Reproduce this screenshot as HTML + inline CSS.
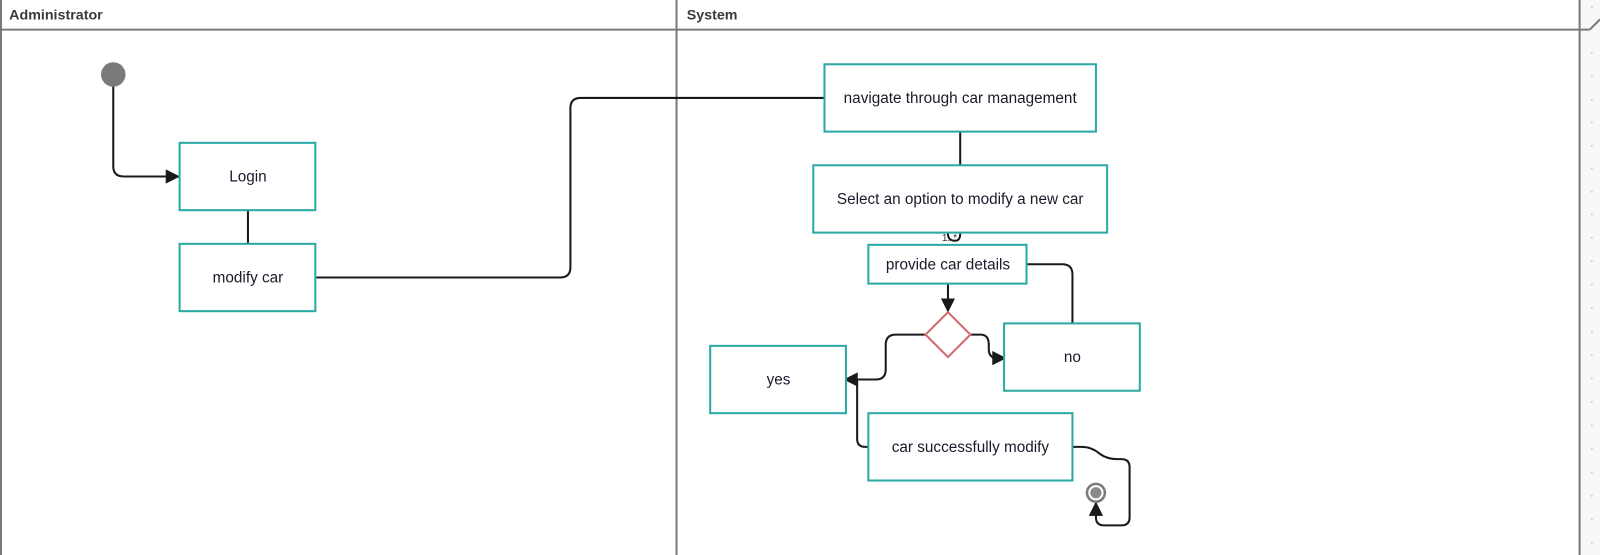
<!DOCTYPE html>
<html><head><meta charset="utf-8"><style>
html,body{margin:0;padding:0;background:#fff;}
svg{display:block;font-family:"Liberation Sans",sans-serif;}
</style></head><body>
<svg width="1600" height="555" viewBox="0 0 1568 544" preserveAspectRatio="none" xmlns="http://www.w3.org/2000/svg">
<defs>
<marker id="b" viewBox="0 0 10 10" markerWidth="14" markerHeight="14" refX="9" refY="5" orient="auto" markerUnits="userSpaceOnUse">
<path d="M0,0 L10,5 L0,10 z" fill="#1a1a1a"/></marker>
</defs>
<rect x="1549" y="0" width="30" height="555" fill="#f8f8fa"/>
<g fill="#ccc"><circle cx="1560" cy="7" r="1"/><circle cx="1560" cy="52" r="1"/><circle cx="1560" cy="75" r="1"/><circle cx="1560" cy="98" r="1"/><circle cx="1560" cy="120" r="1"/><circle cx="1560" cy="143" r="1"/><circle cx="1560" cy="165" r="1"/><circle cx="1560" cy="188" r="1"/><circle cx="1560" cy="210" r="1"/><circle cx="1560" cy="233" r="1"/><circle cx="1560" cy="256" r="1"/><circle cx="1560" cy="279" r="1"/><circle cx="1560" cy="302" r="1"/><circle cx="1560" cy="325" r="1"/><circle cx="1560" cy="348" r="1"/><circle cx="1560" cy="371" r="1"/><circle cx="1560" cy="394" r="1"/><circle cx="1560" cy="417" r="1"/><circle cx="1560" cy="440" r="1"/><circle cx="1560" cy="463" r="1"/><circle cx="1560" cy="486" r="1"/><circle cx="1560" cy="509" r="1"/><circle cx="1560" cy="532" r="1"/></g>
<g stroke="#7a7a7a" stroke-width="2" fill="none">
<line x1="0" y1="29" x2="1558" y2="29"/>
<line x1="1" y1="0" x2="1" y2="555"/>
<line x1="663" y1="0" x2="663" y2="555"/>
<line x1="1548" y1="0" x2="1548" y2="555"/>
<path d="M1558,29 L1568,19"/>
</g>
<text x="9" y="19" font-size="14" font-weight="bold" fill="#3a3a3a">Administrator</text>
<text x="673" y="19" font-size="14" font-weight="bold" fill="#3a3a3a">System</text>

<g stroke="#1a1a1a" stroke-width="2" fill="none">
<path d="M111,80 V163 Q111,173 121,173 H175" marker-end="url(#b)"/>
<line x1="243" y1="206" x2="243" y2="239"/>
<path d="M310,272 H549 Q559,272 559,262 V106 Q559,96 569,96 H808"/>
<line x1="941" y1="129" x2="941" y2="162"/>
<path d="M929,229 Q929,236 936,236 Q941,236 941,229"/>
<path d="M1006,259 H1041 Q1051,259 1051,269 V317"/>
<path d="M929,278 V305" marker-end="url(#b)"/>
<path d="M907,328 H878 Q868,328 868,338 V362 Q868,372 858,372 H828" marker-end="url(#b)"/>
<path d="M951,328 H961 Q969,328 969,338 V342 Q969,351 977,351 H985" marker-end="url(#b)"/>
<path d="M851,438 H848 Q840,438 840,430 V372"/>
<path d="M1051,438 H1060 Q1070,438 1078,445 Q1085,450 1095,450 H1099 Q1107,450 1107,458 V507 Q1107,515 1099,515 H1082 Q1074,515 1074,507 V493" marker-end="url(#b)"/>
</g>
<text x="923" y="236" font-size="10" fill="#333">1..*</text>

<circle cx="111" cy="73" r="12" fill="#7a7a7a"/>
<circle cx="1074" cy="483" r="10" fill="#7a7a7a"/>
<circle cx="1074" cy="483" r="6.5" fill="#8a8a8a" stroke="#fff" stroke-width="2"/>

<g fill="#fff" stroke="#2aa9a5" stroke-width="2">
<rect x="176" y="140" width="133" height="66"/>
<rect x="176" y="239" width="133" height="66"/>
<rect x="808" y="63" width="266" height="66"/>
<rect x="797" y="162" width="288" height="66"/>
<rect x="851" y="240" width="155" height="38"/>
<rect x="984" y="317" width="133" height="66"/>
<rect x="696" y="339" width="133" height="66"/>
<rect x="851" y="405" width="200" height="66"/>
</g>
<path d="M929,306 L951,328 L929,350 L907,328 Z" fill="#fff" stroke="#d06a6e" stroke-width="2"/>

<g font-size="15" fill="#1a1a2a" text-anchor="middle">
<text x="243" y="178">Login</text>
<text x="243" y="277">modify car</text>
<text x="941" y="101">navigate through car management</text>
<text x="941" y="200">Select an option to modify a new car</text>
<text x="929" y="264">provide car details</text>
<text x="1051" y="355">no</text>
<text x="763" y="377">yes</text>
<text x="951" y="443">car successfully modify</text>
</g>
</svg>
</body></html>
